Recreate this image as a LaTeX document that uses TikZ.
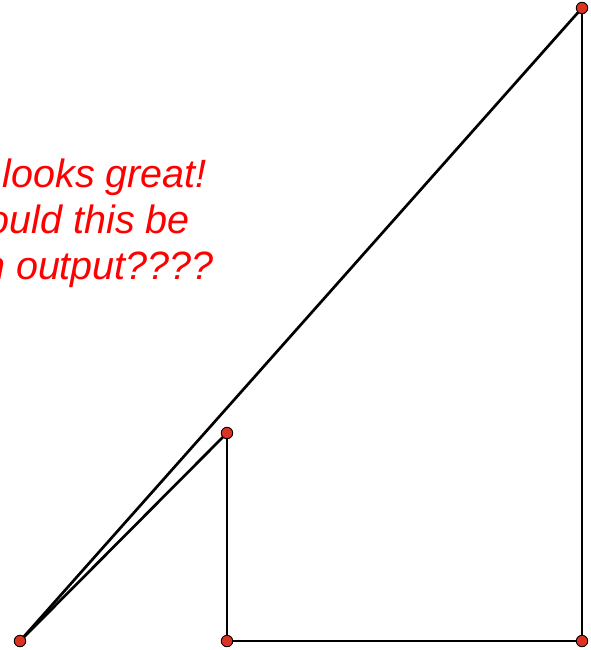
\documentclass[tikz,border=0pt]{standalone}
\usepackage{fontspec}
\setmainfont{Liberation Sans}
\begin{document}
\begin{tikzpicture}[x=1pt,y=-1pt,
  pt/.style={circle,draw=black,line width=0.9pt,fill=ptred,minimum size=11.5pt,inner sep=0pt},
  seg/.style={draw=black,line width=2.7pt},
  lbl/.style={text=red,font=\fontsize{39.5}{44}\selectfont\itshape,inner sep=0pt,anchor=base east}]
\definecolor{ptred}{RGB}{220,50,35}
\useasboundingbox (0,0) rectangle (590,650);
\clip (0,0) rectangle (590,650);
\node[lbl] (t1) at (207,187) {This looks great!};
\node[lbl] (t2) at (190,233) {Should this be};
\node[lbl] (t3) at (214,279) {an output????};
\coordinate (a) at (20,641);
\coordinate (b) at (227,433);
\coordinate (c) at (227,641);
\coordinate (d) at (582,8);
\coordinate (e) at (582,641);
\draw[seg] (a) -- (d);
\draw[seg] (a) -- (b);
\draw[seg] (b) -- (c);
\draw[seg] (c) -- (e);
\draw[seg] (e) -- (d);
\node[pt] (na) at (a) {};
\node[pt] (nb) at (b) {};
\node[pt] (nc) at (c) {};
\node[pt] (nd) at (d) {};
\node[pt] (ne) at (e) {};
\end{tikzpicture}
\end{document}
